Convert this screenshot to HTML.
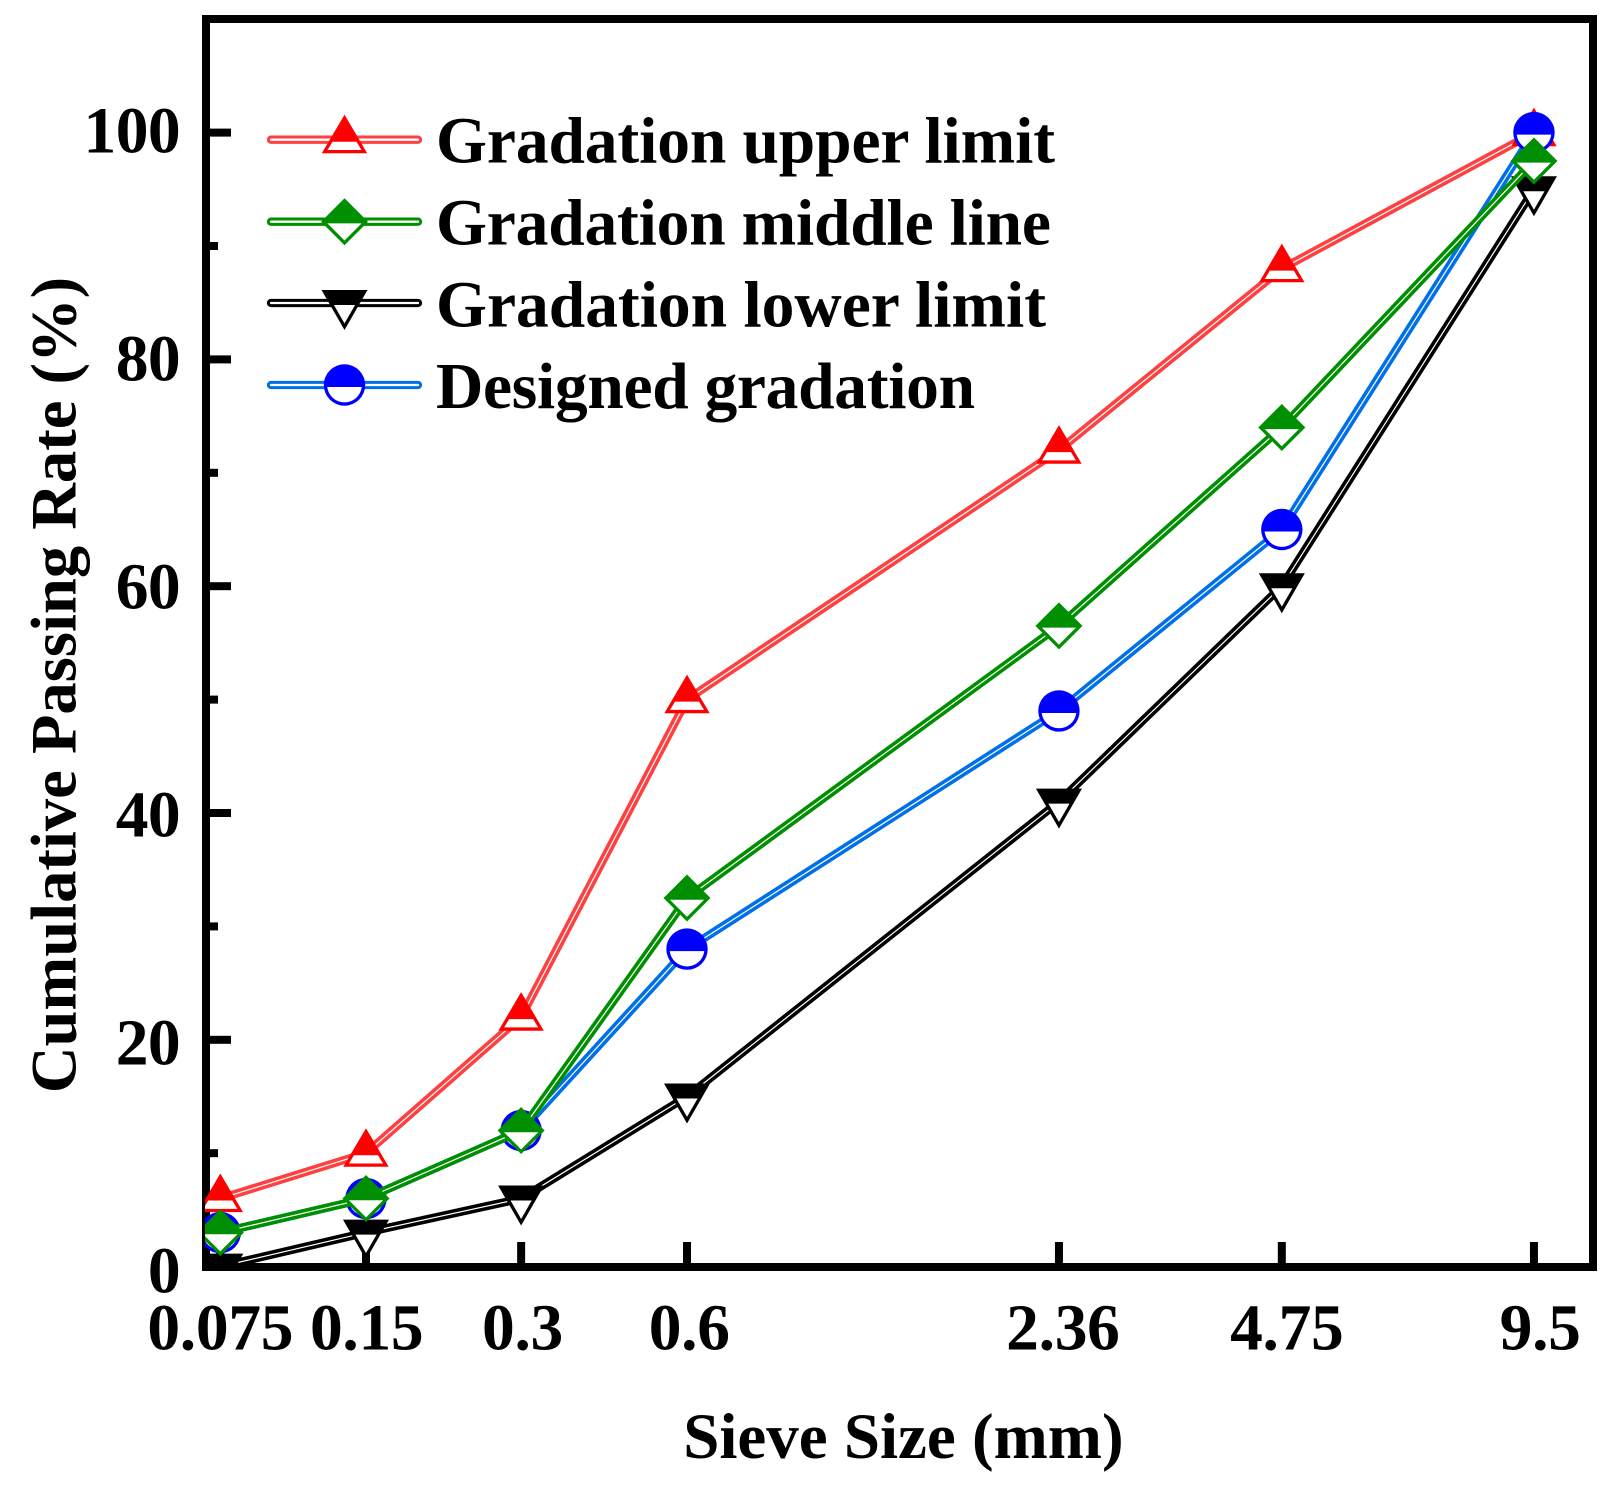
<!DOCTYPE html>
<html lang="en">
<head>
<meta charset="utf-8">
<title>Cumulative Passing Rate vs Sieve Size</title>
<style>
html,body{margin:0;padding:0;background:#fff;width:1613px;height:1486px;overflow:hidden}
svg{display:block}
text{font-family:"Liberation Serif",serif;font-weight:bold;fill:#000;font-size:65.5px}
</style>
</head>
<body>
<svg id="chart" xmlns="http://www.w3.org/2000/svg" width="1613" height="1486" viewBox="0 0 1613 1486">
  <defs>
    <clipPath id="plot-clip"><rect x="205" y="19" width="1388" height="1248"/></clipPath>
  </defs>
  <rect x="0" y="0" width="1613" height="1486" fill="#fff"/>
  <g id="y-ticks"></g>
  <g id="x-ticks"></g>
  <rect x="206" y="19" width="1387" height="1248" fill="none" stroke="#000" stroke-width="8"/>
  <g id="series-layer" clip-path="url(#plot-clip)"></g>
  <text transform="translate(75.5,685) rotate(-90)" text-anchor="middle" style="font-size:64.6px">Cumulative Passing Rate (%)</text>
  <text x="903.4" y="1458" text-anchor="middle" style="font-size:65px">Sieve Size (mm)</text>
  <g id="legend">
    <g>
      <g id="legend-key-upper"></g>
      <text x="436" y="162.4" textLength="619" lengthAdjust="spacing">Gradation upper limit</text>
    </g>
    <g>
      <g id="legend-key-middle"></g>
      <text x="436" y="244.7" textLength="615" lengthAdjust="spacing">Gradation middle line</text>
    </g>
    <g>
      <g id="legend-key-lower"></g>
      <text x="436" y="326.7" textLength="610" lengthAdjust="spacing">Gradation lower limit</text>
    </g>
    <g>
      <g id="legend-key-designed"></g>
      <text x="436" y="408" textLength="539" lengthAdjust="spacing">Designed gradation</text>
    </g>
  </g>
</svg>
<script>
var sieveSizes = [0.075, 0.15, 0.3, 0.6, 2.36, 4.75, 9.5];
var sieveLabels = ["0.075", "0.15", "0.3", "0.6", "2.36", "4.75", "9.5"];
var upperLimit = [6, 10, 22, 50, 72, 88, 100];
var middleLine = [3, 6, 12, 32.5, 56.5, 74, 97.5];
var lowerLimit = [0, 3, 6, 15, 41, 60, 95];
var designedGradation = [3, 6, 12, 28, 49, 65, 100];
var yMajorTicks = [0, 20, 40, 60, 80, 100];
var yMinorTicks = [10, 30, 50, 70, 90];

var NS = "http://www.w3.org/2000/svg";

function xScale(d) {
  var u = Math.log(d / 0.075) / Math.LN2;
  var k = 145.7 + 4.935 * (u - 1) + 0.411 * (u - 1) * (u - 3) + 0.0633 * (u - 1) * (u - 3) * (u - 4.976);
  return 220.3 + u * k;
}
function yScale(v) {
  return 1266.6 - 11.34 * v;
}
function xLabelPos(d) {
  var x = xScale(d);
  return x + 0.0047 * (x - 220.3);
}
function yLabelBaseline(v) {
  return 1292.7 - 11.404 * v;
}
function make(tag, attrs, parent) {
  var el = document.createElementNS(NS, tag);
  for (var k in attrs) { el.setAttribute(k, attrs[k]); }
  parent.appendChild(el);
  return el;
}

function drawMarker(parent, kind, color, cx, cy, name) {
  var g = make("g", { transform: "translate(" + cx + "," + cy + ")" }, parent);
  
  
  if (kind === "up") {
    make("polygon", { points: "0,-25 22.7,13.6 -22.7,13.6", fill: color }, g);
    make("polygon", { points: "-12,2 12,2 17,10.3 -17,10.3", fill: "#fff" }, g);
  } else if (kind === "diamond") {
    make("polygon", { points: "0,-23.5 23.5,0 0,23.5 -23.5,0", fill: color }, g);
    make("polygon", { points: "-17.1,1.7 17.1,1.7 0,18.8", fill: "#fff" }, g);
  } else if (kind === "down") {
    make("polygon", { points: "-23,-13 23,-13 0,27", fill: color }, g);
    make("polygon", { points: "-10.6,2 10.6,2 0,20.4", fill: "#fff" }, g);
  } else {
    make("circle", { cx: 0, cy: 0, r: 20.7, fill: color }, g);
    make("path", { d: "M-17.28 2A17.4 17.4 0 0 0 17.28 2Z", fill: "#fff" }, g);
  }
}

function drawDoubleLine(parent, pts, color, name, coreWidth) {
  var outer = make("polyline", { points: pts, fill: "none", stroke: color, "stroke-width": 8.3, "stroke-linejoin": "round", "stroke-linecap": "round" }, parent);
  
  
  var inner = make("polyline", { points: pts, fill: "none", stroke: "#fff", "stroke-width": coreWidth, "stroke-linejoin": "round", "stroke-linecap": "round" }, parent);
  
  
}

function drawSeries(layer, values, kind, lineColor, markerColor, name) {
  var g = make("g", {}, layer);
  
  
  var pts = sieveSizes.map(function (d, i) { return xScale(d) + "," + yScale(values[i]); }).join(" ");
  drawDoubleLine(g, pts, lineColor, 'line-' + name, 1.2);
  sieveSizes.forEach(function (d, i) {
    drawMarker(g, kind, markerColor, xScale(d), yScale(values[i]), 'point-' + name);
  });
}

var yTickGroup = document.getElementById("y-ticks");
yMajorTicks.forEach(function (v) {
  var t = make("rect", { x: 206, y: yScale(v) - 4, width: 25, height: 8, fill: "#000" }, yTickGroup);
  
  
  var l = make("text", { x: 180, y: yLabelBaseline(v), "text-anchor": "end", "letter-spacing": "-0.6" }, yTickGroup);
  
  
  l.textContent = String(v);
});
yMinorTicks.forEach(function (v) {
  var t = make("rect", { x: 206, y: yScale(v) - 4, width: 12, height: 8, fill: "#000" }, yTickGroup);
  
  
});

var xTickGroup = document.getElementById("x-ticks");
sieveSizes.forEach(function (d, i) {
  var x = xScale(d);
  var t = make("rect", { x: x - 4, y: 1242, width: 8, height: 25, fill: "#000" }, xTickGroup);
  
  
  var l = make("text", { x: xLabelPos(d), y: 1349.7, "text-anchor": "middle", "letter-spacing": "-0.3" }, xTickGroup);
  
  
  l.textContent = sieveLabels[i];
});

var seriesLayer = document.getElementById("series-layer");
drawSeries(seriesLayer, lowerLimit, "down", "#000000", "#000000", "lower-limit");
drawSeries(seriesLayer, upperLimit, "up", "#ff4040", "#ff0000", "upper-limit");
drawSeries(seriesLayer, designedGradation, "circle", "#0070e8", "#0000ff", "designed-gradation");
drawSeries(seriesLayer, middleLine, "diamond", "#008f00", "#008f00", "middle-line");

function drawLegendKey(id, y, kind, lineColor, markerColor, name) {
  var g = document.getElementById(id);
  drawDoubleLine(g, "271,"  + y + " 418," + y, lineColor, 'legend-line-' + name, 2.3);
  drawMarker(g, kind, markerColor, 344.5, y, 'legend-marker-' + name);
}
drawLegendKey("legend-key-upper", 139.7, "up", "#ff4040", "#ff0000", "upper-limit");
drawLegendKey("legend-key-middle", 221.7, "diamond", "#008f00", "#008f00", "middle-line");
drawLegendKey("legend-key-lower", 303, "down", "#000000", "#000000", "lower-limit");
drawLegendKey("legend-key-designed", 385, "circle", "#0070e8", "#0000ff", "designed-gradation");
</script>
</body>
</html>
